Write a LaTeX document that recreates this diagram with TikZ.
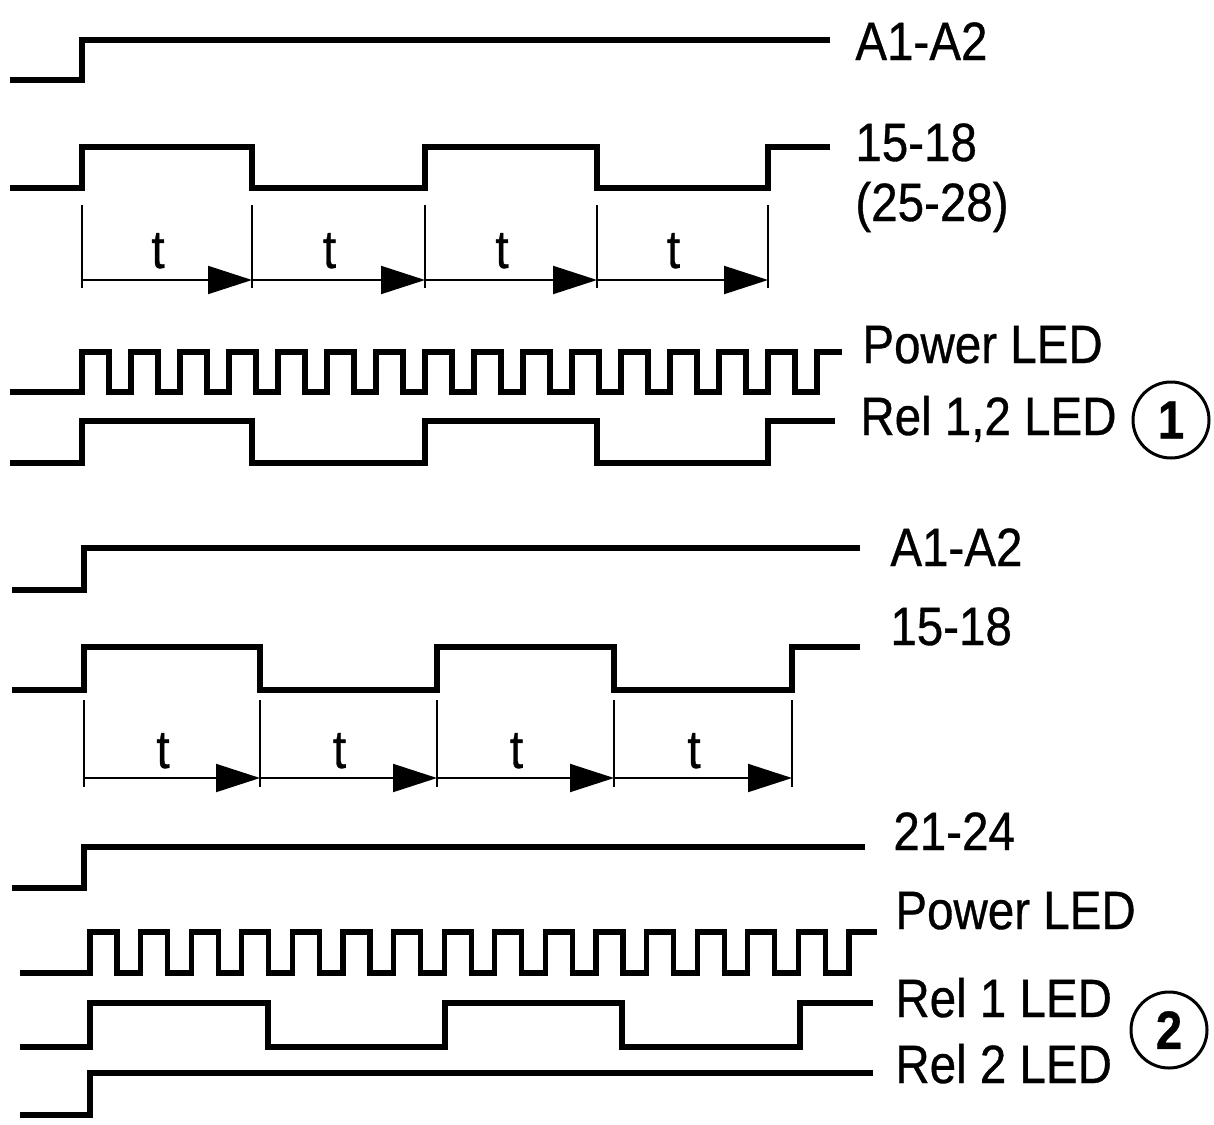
\documentclass[tikz,border=0pt]{standalone}
\usepackage{fontspec}
\setmainfont{Liberation Sans}[FakeStretch=0.88, FakeBold=0.6]
\usetikzlibrary{arrows.meta}

\begin{document}
\begin{tikzpicture}[x=0.5pt, y=-0.5pt,
             every node/.style={font=\fontsize{27}{32}\selectfont, inner sep=0pt},
             sig/.style={line width=2.6pt, line join=miter},
             lbl/.style={anchor=base west},
             tick/.style={line width=1pt},
             span/.style={line width=1pt, -{Triangle[length=22pt, width=14pt]}},
             num/.style={circle, draw, line width=1.5pt, minimum size=38pt,
                         font=\fontsize{27}{32}\selectfont\bfseries}]
\useasboundingbox (0,0) rectangle (1214,1124);

%% Diagram 1: A1-A2, 15-18 (25-28), LEDs
\node[lbl] (aA) at (855,60) {A1-A2};
\draw[sig] (10,80) -- (82,80) -- (82,40) -- (830,40);

\node[lbl] (cA)  at (855,161) {15-18};
\node[lbl] (cAx) at (855,221) {(25-28)};
\draw[sig] (10,188) \foreach \u/\d in {82/252,425/597} {
    -- (\u,188) -- (\u,147) -- (\d,147) -- (\d,188) }
  -- (768,188) -- (768,147) -- (830,147);

%% time spans t
\foreach \x in {82,252,425,597,768}
  \draw[tick] (\x,205) -- (\x,288);
\foreach \a/\b [count=\i] in {82/252,252/425,425/597,597/768} {
  \coordinate (sA\i) at (\a,280);
  \coordinate (fA\i) at (\b,280);
  \draw[span] (sA\i) -- (fA\i);
  \node[anchor=base] (tA\i) at ({(\a+\b)/2-9},268) {t};
}

%% power LED flashes, relay LED follows 15-18
\node[lbl] (pA) at (862,363) {Power LED};
\draw[sig] (10,392) \foreach \k in {0,...,14} {
    -- ({82+49*\k},392) -- ({82+49*\k},352) -- ({109+49*\k},352) -- ({109+49*\k},392) }
  -- (817,392) -- (817,352) -- (842,352);

\node[lbl] (rA) at (860,435) {Rel 1,2 LED};
\draw[sig] (10,463) \foreach \u/\d in {82/252,425/597} {
    -- (\u,463) -- (\u,421) -- (\d,421) -- (\d,463) }
  -- (768,463) -- (768,421) -- (835,421);
\node[num] (nA) at (1171,420) {1};

%% Diagram 2: A1-A2, 15-18, 21-24, LEDs
\node[lbl] (aB) at (890,566) {A1-A2};
\draw[sig] (12,590) -- (84,590) -- (84,548) -- (860,548);

\node[lbl] (cB) at (890,645) {15-18};
\draw[sig] (12,690) \foreach \u/\d in {84/260,437/614} {
    -- (\u,690) -- (\u,647) -- (\d,647) -- (\d,690) }
  -- (792,690) -- (792,647) -- (860,647);

%% time spans t
\foreach \x in {84,260,437,614,792}
  \draw[tick] (\x,700) -- (\x,787);
\foreach \a/\b [count=\i] in {84/260,260/437,437/614,614/792} {
  \coordinate (sB\i) at (\a,778);
  \coordinate (fB\i) at (\b,778);
  \draw[span] (sB\i) -- (fB\i);
  \node[anchor=base] (tB\i) at ({(\a+\b)/2-9},768) {t};
}

\node[lbl] (dB) at (893,850) {21-24};
\draw[sig] (12,888) -- (84,888) -- (84,847) -- (865,847);

\node[lbl] (pB) at (895,929) {Power LED};
\draw[sig] (20,973) \foreach \k in {0,...,14} {
    -- ({90+50.6*\k},973) -- ({90+50.6*\k},932) -- ({117+50.6*\k},932) -- ({117+50.6*\k},973) }
  -- (849,973) -- (849,932) -- (877,932);

\node[lbl] (rB) at (895,1017) {Rel 1 LED};
\draw[sig] (20,1047) \foreach \u/\d in {90/268,445/622} {
    -- (\u,1047) -- (\u,1003) -- (\d,1003) -- (\d,1047) }
  -- (800,1047) -- (800,1003) -- (873,1003);

\node[lbl] (qB) at (895,1083) {Rel 2 LED};
\draw[sig] (20,1115) -- (90,1115) -- (90,1073) -- (873,1073);
\node[num] (nB) at (1169,1030) {2};
\end{tikzpicture}
\end{document}
